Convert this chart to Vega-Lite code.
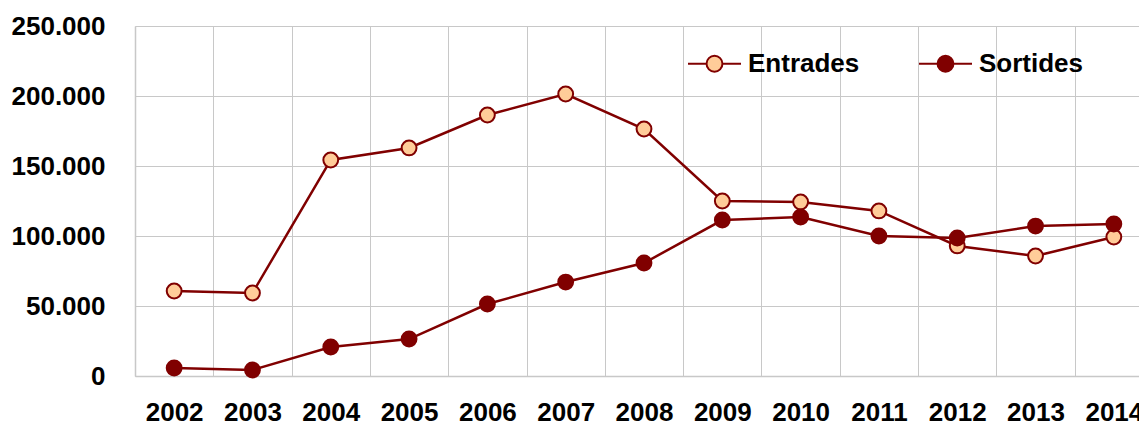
{
  "$schema": "https://vega.github.io/schema/vega-lite/v6.json",
  "autosize": {"type": "none"},
  "padding": {"left": 135, "top": 26, "right": 0, "bottom": 52},
  "width": 1018,
  "height": 350,
  "background": "white",
  "data": {
    "values": [
      {"year": "2002", "serie": "Entrades", "value": 60700},
      {"year": "2003", "serie": "Entrades", "value": 59300},
      {"year": "2004", "serie": "Entrades", "value": 154300},
      {"year": "2005", "serie": "Entrades", "value": 162900},
      {"year": "2006", "serie": "Entrades", "value": 186400},
      {"year": "2007", "serie": "Entrades", "value": 201400},
      {"year": "2008", "serie": "Entrades", "value": 176400},
      {"year": "2009", "serie": "Entrades", "value": 125000},
      {"year": "2010", "serie": "Entrades", "value": 124300},
      {"year": "2011", "serie": "Entrades", "value": 117900},
      {"year": "2012", "serie": "Entrades", "value": 92900},
      {"year": "2013", "serie": "Entrades", "value": 85700},
      {"year": "2014", "serie": "Entrades", "value": 99300},
      {"year": "2002", "serie": "Sortides", "value": 5700},
      {"year": "2003", "serie": "Sortides", "value": 4300},
      {"year": "2004", "serie": "Sortides", "value": 20700},
      {"year": "2005", "serie": "Sortides", "value": 26400},
      {"year": "2006", "serie": "Sortides", "value": 51400},
      {"year": "2007", "serie": "Sortides", "value": 67100},
      {"year": "2008", "serie": "Sortides", "value": 80700},
      {"year": "2009", "serie": "Sortides", "value": 111400},
      {"year": "2010", "serie": "Sortides", "value": 113600},
      {"year": "2011", "serie": "Sortides", "value": 100000},
      {"year": "2012", "serie": "Sortides", "value": 98600},
      {"year": "2013", "serie": "Sortides", "value": 107100},
      {"year": "2014", "serie": "Sortides", "value": 108600}
    ]
  },
  "encoding": {
    "x": {
      "field": "year", "type": "ordinal", "title": null,
      "scale": {"type": "band", "paddingInner": 0, "paddingOuter": 0},
      "axis": {"labelAngle": 0, "ticks": false, "labelPadding": 23, "grid": true, "tickBand": "extent", "domain": true}
    },
    "y": {
      "field": "value", "type": "quantitative", "title": null,
      "scale": {"domain": [0, 250000], "nice": false},
      "axis": {"values": [0, 50000, 100000, 150000, 200000, 250000], "ticks": false, "labelPadding": 30,
               "labelExpr": "replace(format(datum.value, ','), ',', '.')", "domain": true}
    }
  },
  "layer": [
    {
      "mark": {"type": "line", "strokeWidth": 2.5},
      "encoding": {
        "stroke": {
          "field": "serie", "type": "nominal", "title": null,
          "scale": {"domain": ["Entrades", "Sortides"], "range": ["#800000", "#800000"]},
          "legend": {
            "orient": "none", "legendX": 552, "legendY": 10, "direction": "horizontal",
            "symbolType": "M-0.3,0A0.3,0.3,0,1,1,0.3,0A0.3,0.3,0,1,1,-0.3,0ZM-1,0H-0.3M0.3,0H1",
            "symbolSize": 2809, "symbolStrokeWidth": 2, "labelOffset": 6, "columnPadding": 55,
            "labelFont": "Liberation Sans", "labelFontSize": 26, "labelFontWeight": "bold", "labelColor": "black"
          }
        }
      }
    },
    {
      "mark": {"type": "point", "filled": true, "size": 220, "stroke": "#800000", "strokeWidth": 2, "opacity": 1},
      "encoding": {
        "fill": {
          "field": "serie", "type": "nominal", "title": null,
          "scale": {"domain": ["Entrades", "Sortides"], "range": ["#FFCC99", "#800000"]},
          "legend": {
            "orient": "none", "legendX": 552, "legendY": 10, "direction": "horizontal",
            "symbolType": "M-0.3,0A0.3,0.3,0,1,1,0.3,0A0.3,0.3,0,1,1,-0.3,0ZM-1,0H-0.3M0.3,0H1",
            "symbolSize": 2809, "symbolStrokeWidth": 2, "labelOffset": 6, "columnPadding": 55,
            "labelFont": "Liberation Sans", "labelFontSize": 26, "labelFontWeight": "bold", "labelColor": "black"
          }
        }
      }
    }
  ],
  "config": {
    "view": {"stroke": null},
    "axis": {
      "labelFont": "Liberation Sans", "labelFontSize": 26, "labelFontWeight": "bold", "labelColor": "black",
      "gridColor": "#c8c8c8", "gridWidth": 1, "gridOpacity": 1, "domainColor": "#c8c8c8", "domainWidth": 1.5
    },
    "legend": {"padding": 0}
  }
}
